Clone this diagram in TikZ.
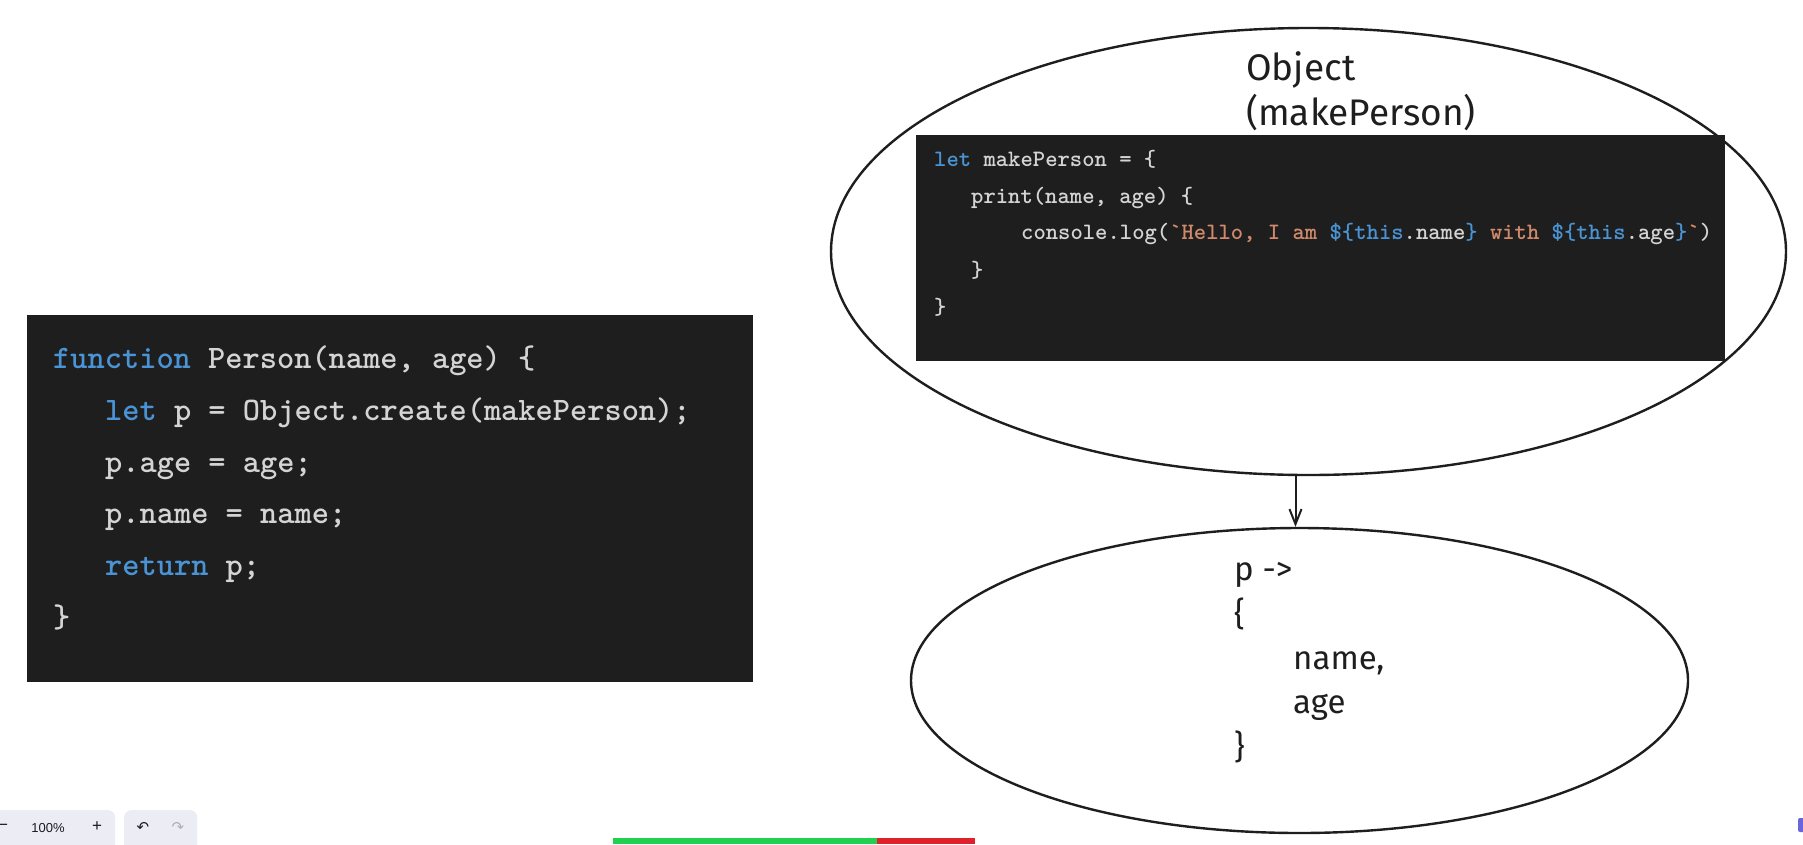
\documentclass[tikz,border=0pt]{standalone}
\usepackage{fontspec}
\newfontfamily\handfont{Fira Sans}
\newfontfamily\uifont{Liberation Sans}
\newfontfamily\symfont{DejaVu Sans}
\newfontfamily\codefont[Extension=.otf]{lmmonolt10-bold}
\usetikzlibrary{shapes.geometric,arrows.meta}

\definecolor{codebg}{HTML}{1E1E1E}
\definecolor{codefg}{HTML}{D4D4D4}
\definecolor{codekw}{HTML}{4A94D6}
\definecolor{codestr}{HTML}{D08A6B}
\definecolor{ink}{HTML}{1E1E1E}
\definecolor{uibg}{HTML}{ECECF4}
\definecolor{uitext}{HTML}{1B1B1F}
\definecolor{uigreen}{HTML}{1FD14F}
\definecolor{uired}{HTML}{E0202A}
\definecolor{uipurple}{HTML}{6965DB}

\newcommand{\kw}[1]{\textcolor{codekw}{#1}}
\newcommand{\str}[1]{\textcolor{codestr}{#1}}

\tikzset{
  codebox/.style={fill=codebg, inner sep=0pt, anchor=north west},
  bigcode/.style={anchor=base west, inner sep=0pt, text=codefg,
    font=\codefont\fontsize{32.8}{40}\selectfont},
  smallcode/.style={anchor=base west, inner sep=0pt, text=codefg,
    font=\codefont\fontsize{23.5}{30}\selectfont},
  hand/.style={anchor=base west, inner sep=0pt, text=ink,
    font=\handfont\fontsize{33}{40}\selectfont},
  title/.style={hand, font=\handfont\fontsize{37}{44}\selectfont},
  bubble/.style={ellipse, draw=ink, line width=2.4pt, inner sep=0pt},
  uibox/.style={fill=uibg, rounded corners=7pt, anchor=north west, inner sep=0pt},
  uilabel/.style={inner sep=0pt, text=uitext, font=\uifont\fontsize{13}{15}\selectfont},
  arr/.style={draw=ink, line width=2pt, -{Straight Barb[length=15pt, width=12pt]}}
}

\begin{document}
\begin{tikzpicture}[x=1pt, y=-1pt]
	\path[use as bounding box, fill=white] (0,0) rectangle (1803,844);

	% constructor code
	\node (ctorbox)[codebox, minimum width=726, minimum height=367] at (27,315) {};
	\node (c1)[bigcode] at (53,368) {\kw{function} Person(name, age) \{};
	\node (c2)[bigcode] at (105,420) {\kw{let} p = Object.create(makePerson);};
	\node (c3)[bigcode] at (105,472) {p.age = age;};
	\node (c4)[bigcode] at (105,523) {p.name = name;};
	\node (c5)[bigcode] at (105,575) {\kw{return} p;};
	\node (c6)[bigcode] at (53,627) {\}};

	% prototype object
	\node (objbubble)[bubble, minimum width=955, minimum height=447] at (1308.5,251.5) {};
	\node (objtitle1)[title] at (1246,80) {Object};
	\node (objtitle2)[title] at (1246,125) {(makePerson)};
	\node (protobox)[codebox, minimum width=809, minimum height=226] at (916,135) {};
	\node (m1)[smallcode] at (934,166) {\kw{let} makePerson = \{};
	\node (m2)[smallcode] at (971,203) {print(name, age) \{};
	\node (m3)[smallcode] at (1021,239.5) {console.log(\str{\textasciigrave Hello, I am }\kw{\$\{this}.name\kw{\}}\str{\ with }\kw{\$\{this}.age\kw{\}}\str{\textasciigrave})};
	\node (m4)[smallcode] at (971,277) {\}};
	\node (m5)[smallcode] at (934,314) {\}};

	% new instance
	\node (pbubble)[bubble, minimum width=777, minimum height=305] at (1299.5,680.5) {};
	\node (p1)[hand] at (1234,580) {p ->};
	\node (p2)[hand] at (1234,625) {\{};
	\node (p3)[hand] at (1293,669) {name,};
	\node (p4)[hand] at (1293,713) {age};
	\node (p5)[hand] at (1234,758) {\}};

	\draw [arr]([xshift=-13pt]objbubble.south)--([xshift=-4pt]pbubble.north);

	% editor toolbar
	\node (zoombar)[uibox, minimum width=125, minimum height=44] at (-10,810) {};
	\node (zoomout)[uilabel, font=\uifont\fontsize{17}{19}\selectfont] at (3,827) {−};
	\node (zoomval)[uilabel] at (48,828) {100\%};
	\node (zoomin)[uilabel, font=\uifont\fontsize{17}{19}\selectfont] at (97,827) {+};
	\node (undobar)[uibox, minimum width=73, minimum height=44] at (124,810) {};
	\node (undo)[uilabel, font=\symfont\fontsize{15}{17}\selectfont] at (143,827) {↶};
	\node (redo)[uilabel, text=uitext!35, font=\symfont\fontsize{15}{17}\selectfont] at (178,827) {↷};
	\fill [uigreen](613,838) rectangle (877,844);
	\fill [uired](877,838) rectangle (975,844);
	\fill [uipurple, rounded corners=2pt](1798,818) rectangle (1808,832);
\end{tikzpicture}
\end{document}
